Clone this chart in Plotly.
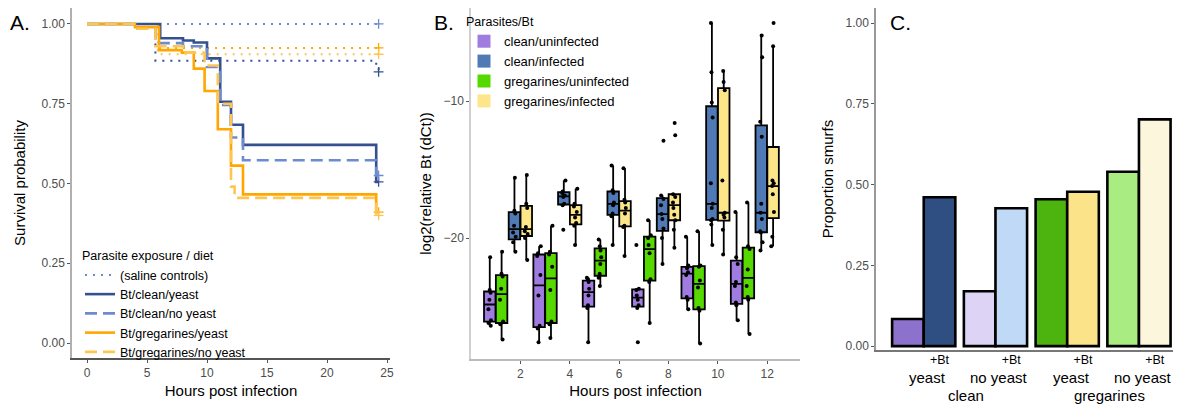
import plotly.graph_objects as go

# The page body has an 8px default margin, so the figure is drawn 8px in and
# down; reference pixel p maps to figure pixel p - 8.
OFF = 8
W, H = 1181 - OFF, 406 - OFF
FONT = "Liberation Sans, Arial, sans-serif"


def fx(p):
    return min(1.0, max(0.0, (p - OFF) / W))


def fy(p):
    return min(1.0, max(0.0, 1 - (p - OFF) / H))


# ---------------- Panel A: survival curves ----------------
clean_yeast_t = [0, 6.1, 8.0, 8.9, 10.0, 11.1, 12.0, 13.0, 24.1, 24.3]
clean_yeast_s = [1.0, 0.955, 0.948, 0.942, 0.892, 0.756, 0.684, 0.621, 0.505, 0.505]
clean_noyeast_t = [0, 3.9, 5.7, 8.0, 10.0, 11.1, 12.0, 13.0, 24.1, 24.3]
clean_noyeast_s = [1.0, 0.985, 0.94, 0.93, 0.865, 0.746, 0.644, 0.573, 0.525, 0.525]
greg_yeast_t = [0, 4.0, 6.0, 7.9, 8.9, 9.8, 10.9, 12.0, 13.0, 24.1, 24.3]
greg_yeast_s = [1.0, 0.99, 0.918, 0.91, 0.86, 0.79, 0.67, 0.556, 0.466, 0.41, 0.41]
greg_noyeast_t = [0, 3.9, 5.7, 8.0, 9.8, 10.9, 12.0, 12.3, 24.1, 24.3]
greg_noyeast_s = [1.0, 0.985, 0.93, 0.91, 0.87, 0.75, 0.49, 0.455, 0.40, 0.40]

ctrl_clean_yeast_t = [0, 5.7, 24.1, 24.3]
ctrl_clean_yeast_s = [1.0, 0.885, 0.86, 0.85]
ctrl_clean_noyeast_t = [0, 24.3]
ctrl_clean_noyeast_s = [1.0, 1.0]
ctrl_greg_yeast_t = [0, 6.0, 24.3]
ctrl_greg_yeast_s = [1.0, 0.925, 0.925]
ctrl_greg_noyeast_t = [0, 5.9, 24.3]
ctrl_greg_noyeast_s = [1.0, 0.905, 0.905]

# ---------------- Panel B: qPCR boxes ----------------
b_hours_uninf = [1, 3, 5, 7, 9, 11]
b_hours_inf = [2, 4, 6, 8, 10, 12]
clean_uninfected = [
    [-26.4, -26.2, -26.0, -25.2, -24.5, -24.0, -23.8, -21.4],
    [-27.6, -26.6, -26.4, -24.2, -22.7, -21.3, -21.1, -20.6],
    [-27.6, -25.1, -24.9, -24.2, -23.7, -23.2, -23.0, -22.9],
    [-27.6, -25.1, -24.9, -24.5, -24.2, -23.8, -23.7, -20.5],
    [-25.2, -24.5, -24.3, -22.7, -22.5, -22.2, -22.0, -19.9],
    [-26.0, -24.9, -24.7, -23.5, -23.2, -21.9, -21.4, -18.1],
]
gregarines_uninfected = [
    [-27.4, -26.3, -26.1, -24.5, -23.7, -22.8, -22.6, -21.0],
    [-27.3, -26.3, -26.1, -23.8, -22.1, -21.2, -21.0, -19.1],
    [-23.5, -22.9, -22.6, -21.9, -21.4, -20.9, -20.6, -20.1],
    [-26.2, -23.2, -23.0, -21.1, -20.5, -20.0, -19.8, -18.7],
    [-27.7, -25.3, -25.1, -23.6, -23.1, -22.1, -22.0, -19.5],
    [-27.0, -24.5, -24.3, -23.5, -22.3, -20.8, -20.6, -17.4],
]
clean_infected = [
    [-21.0, -20.3, -19.9, -19.6, -19.1, -18.2, -18.0, -15.6],
    [-19.4, -17.6, -17.5, -17.0, -16.9, -16.7, -16.6, -15.8],
    [-20.5, -18.4, -18.2, -17.6, -17.4, -16.7, -16.5, -14.7],
    [-21.9, -20.0, -19.3, -18.6, -18.25, -17.6, -17.15, -16.9, -12.9],
    [-20.5, -19.0, -18.7, -18.6, -17.8, -17.5, -16.0, -11.2, -10.1, -7.9, -4.3],
    [-20.9, -20.3, -19.6, -19.5, -18.6, -18.15, -17.5, -12.6, -11.5, -6.8, -5.2],
]
gregarines_infected = [
    [-21.6, -20.0, -19.7, -19.5, -19.2, -17.8, -17.5, -15.4],
    [-20.5, -19.1, -18.9, -18.5, -18.1, -17.7, -17.5, -16.4],
    [-21.3, -19.2, -19.1, -18.2, -17.8, -17.4, -17.2, -14.9],
    [-20.7, -19.4, -18.7, -18.3, -17.8, -17.4, -17.0, -16.8, -12.5, -11.6],
    [-21.2, -19.4, -18.5, -18.3, -18.15, -15.8, -9.2, -8.6, -7.8],
    [-20.6, -19.9, -18.1, -16.8, -16.2, -16.0, -15.8, -6.0, -4.3],
]

# ---------------- Panel C: proportion smurfs ----------------
c_parasite = ["clean", "clean", "clean", "clean",
              "gregarines", "gregarines", "gregarines", "gregarines"]
c_diet = ["yeast", "yeast", "no yeast", "no yeast",
          "yeast", "yeast", "no yeast", "no yeast"]
c_bt = ["", "+Bt", "", "+Bt", "", "+Bt", "", "+Bt"]
c_values = [0.084, 0.461, 0.170, 0.427, 0.455, 0.478, 0.540, 0.702]
c_colors = ["#8c72cc", "#2f4f82", "#ddd3f5", "#bfd9f7",
            "#4db30e", "#fbe38a", "#a9ec82", "#fcf6dd"]

fig = go.Figure()

# ---- A traces ----
DARK_BLUE = "#34508f"
LIGHT_BLUE = "#6f8bd0"
ORANGE = "#ffa600"
LIGHT_ORANGE = "#ffc552"

controls = [
    (ctrl_clean_noyeast_t, ctrl_clean_noyeast_s, LIGHT_BLUE, True),
    (ctrl_clean_yeast_t, ctrl_clean_yeast_s, DARK_BLUE, False),
    (ctrl_greg_yeast_t, ctrl_greg_yeast_s, ORANGE, False),
    (ctrl_greg_noyeast_t, ctrl_greg_noyeast_s, LIGHT_ORANGE, False),
]
for t, s, col, show in controls:
    fig.add_trace(go.Scatter(
        x=t, y=s, mode="lines", line=dict(shape="hv", color=col, width=2, dash="2px,6px"),
        name="(saline controls)", showlegend=show, legend="legend", xaxis="x", yaxis="y"))
    fig.add_trace(go.Scatter(
        x=[t[-1]], y=[s[-1]], mode="markers", showlegend=False,
        marker=dict(symbol="cross-thin", size=7, line=dict(color=col, width=1.3)),
        xaxis="x", yaxis="y"))

curves = [
    (clean_yeast_t, clean_yeast_s, DARK_BLUE, "solid", "Bt/clean/yeast"),
    (clean_noyeast_t, clean_noyeast_s, LIGHT_BLUE, "12px,6px", "Bt/clean/no yeast"),
    (greg_yeast_t, greg_yeast_s, ORANGE, "solid", "Bt/gregarines/yeast"),
    (greg_noyeast_t, greg_noyeast_s, LIGHT_ORANGE, "12px,6px", "Bt/gregarines/no yeast"),
]
for t, s, col, dash, name in curves:
    fig.add_trace(go.Scatter(
        x=t, y=s, mode="lines", line=dict(shape="hv", color=col, width=2.6, dash=dash),
        name=name, legend="legend", xaxis="x", yaxis="y"))
    fig.add_trace(go.Scatter(
        x=[t[-1]], y=[s[-1]], mode="markers", showlegend=False,
        marker=dict(symbol="cross-thin", size=7, line=dict(color=col, width=1.3)),
        xaxis="x", yaxis="y"))

# ---- B traces ----
b_groups = [
    ("clean/uninfected", b_hours_uninf, clean_uninfected, "#a07ce0", "a"),
    ("clean/infected", b_hours_inf, clean_infected, "#4f7ab5", "a"),
    ("gregarines/uninfected", b_hours_uninf, gregarines_uninfected, "#55d900", "b"),
    ("gregarines/infected", b_hours_inf, gregarines_infected, "#fde68a", "b"),
]
for name, hours, vals, col, og in b_groups:
    xs, ys = [], []
    for h, v in zip(hours, vals):
        xs += [h] * len(v)
        ys += v
    fig.add_trace(go.Box(
        x=xs, y=ys, name=name, offsetgroup=og, fillcolor=col,
        line=dict(color="black", width=1.8), whiskerwidth=0,
        boxpoints="all", jitter=0.35, pointpos=0,
        marker=dict(color="black", size=4, opacity=1),
        showlegend=False, xaxis="x2", yaxis="y2"))
for name, hours, vals, col, og in b_groups:
    fig.add_trace(go.Scatter(
        x=[None], y=[None], mode="markers", name=name,
        marker=dict(symbol="square", size=13, color=col),
        legend="legend2", xaxis="x2", yaxis="y2"))

# ---- C traces ----
PAIR_STEP = 2.27
c_x = [(i // 2) * PAIR_STEP + (i % 2) for i in range(len(c_values))]
fig.add_trace(go.Bar(
    x=c_x, y=c_values, width=1.0, marker=dict(color=c_colors, line=dict(color="black", width=2.6)),
    showlegend=False, xaxis="x3", yaxis="y3"))

tick_font = dict(family=FONT, size=12, color="#4d4d4d")
title_font = dict(family=FONT, size=15, color="black")

common_axis = dict(showgrid=False, zeroline=False, showline=True, ticks="outside",
                   ticklen=3, tickwidth=1, tickfont=tick_font, automargin=False)

annotations = [
    dict(text="A.", x=fx(8), y=fy(22), xref="paper", yref="paper", xanchor="left",
         yanchor="middle", showarrow=False, font=dict(family=FONT, size=21, color="black")),
    dict(text="B.", x=fx(432), y=fy(22), xref="paper", yref="paper", xanchor="left",
         yanchor="middle", showarrow=False, font=dict(family=FONT, size=21, color="black")),
    dict(text="C.", x=fx(888), y=fy(23), xref="paper", yref="paper", xanchor="left",
         yanchor="middle", showarrow=False, font=dict(family=FONT, size=21, color="black")),
]
# Diet and parasite labels for panel C
for p in range(len(c_values) // 2):
    cx = (c_x[2 * p] + c_x[2 * p + 1]) / 2 + 0.12
    annotations.append(dict(text=c_diet[2 * p], x=cx, y=fy(377), xref="x3", yref="paper",
                            xanchor="center", yanchor="middle", showarrow=False,
                            font=dict(family=FONT, size=15, color="black")))
for par in ["clean", "gregarines"]:
    xs = [c_x[i] for i in range(len(c_x)) if c_parasite[i] == par]
    annotations.append(dict(text=par, x=sum(xs) / len(xs) + 0.2, y=fy(395), xref="x3",
                            yref="paper", xanchor="center", yanchor="middle", showarrow=False,
                            font=dict(family=FONT, size=15, color="black")))

bt_ticks = [c_x[i] for i in range(len(c_x)) if c_bt[i]]

fig.update_layout(
    width=W, height=H,
    margin=dict(l=0, r=0, t=0, b=0, autoexpand=False),
    paper_bgcolor="white", plot_bgcolor="white",
    font=dict(family=FONT, color="black"),
    boxmode="group", boxgap=0.04, boxgroupgap=0.03,
    xaxis=dict(domain=[fx(72), fx(390)], range=[-1.25, 25.25], tickvals=[0, 5, 10, 15, 20, 25],
               linecolor="#555555", linewidth=1.5, tickcolor="#555555",
               title=dict(text="Hours post infection", font=title_font, standoff=6),
               anchor="y", **common_axis),
    yaxis=dict(domain=[fy(358), fy(8)], range=[-0.047, 1.05], tickvals=[0, 0.25, 0.5, 0.75, 1.0],
               tickformat=".2f", linecolor="#b0b0b0", linewidth=1.5, tickcolor="#555555",
               title=dict(text="Survival probability", font=title_font, standoff=12),
               anchor="x", **common_axis),
    xaxis2=dict(domain=[fx(471), fx(800)], range=[0.0, 13.33], tickvals=[2, 4, 6, 8, 10, 12],
                linecolor="#bbbbbb", linewidth=1.5, tickcolor="#555555",
                title=dict(text="Hours post infection", font=title_font, standoff=5),
                anchor="y2", **common_axis),
    yaxis2=dict(domain=[fy(359), fy(8)], range=[-28.83, -3.2], tickvals=[-20, -10],
                linecolor="#d0d0d0", linewidth=1.5, tickcolor="#555555",
                title=dict(text="log2(relative Bt (dCt))", font=title_font, standoff=8),
                anchor="x2", **common_axis),
    xaxis3=dict(domain=[fx(876), fx(1181)], range=[-1.01, 8.64], tickvals=bt_ticks,
                ticktext=["+Bt"] * len(bt_ticks), showgrid=False, zeroline=False, showline=True,
                linecolor="#777777", linewidth=1.5, ticks="", automargin=False,
                ticklabelstandoff=-3,
                tickfont=dict(family=FONT, size=12.5, color="black"), anchor="y3"),
    yaxis3=dict(domain=[fy(350), fy(8)], range=[-0.012, 1.047], tickvals=[0, 0.25, 0.5, 0.75, 1.0],
                tickformat=".2f", linecolor="#999999", linewidth=1.5, tickcolor="#555555",
                title=dict(text="Proportion smurfs", font=title_font, standoff=8),
                anchor="x3", **common_axis),
    legend=dict(x=fx(80), y=fy(244), xanchor="left", yanchor="top", bgcolor="rgba(0,0,0,0)",
                font=dict(family=FONT, size=12.5, color="black"), tracegroupgap=0, itemwidth=30,
                title=dict(text="Parasite exposure / diet", font=dict(family=FONT, size=12.5))),
    legend2=dict(x=fx(464), y=fy(10), xanchor="left", yanchor="top", bgcolor="rgba(0,0,0,0)",
                 font=dict(family=FONT, size=13, color="black"), tracegroupgap=0, itemwidth=30,
                 title=dict(text="Parasites/Bt", font=dict(family=FONT, size=12.5))),
    annotations=annotations,
)

fig.write_html("out.html")
